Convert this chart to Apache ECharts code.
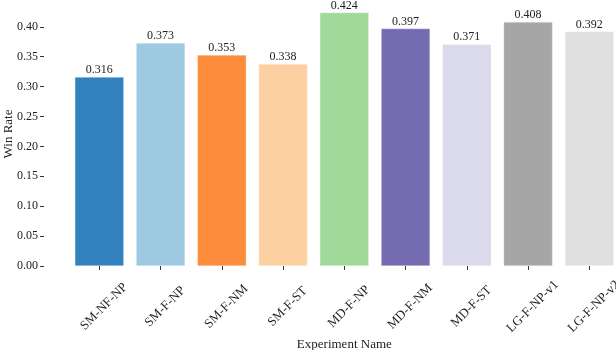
<!DOCTYPE html>
<html>
<head>
<meta charset="utf-8">
<script src="https://cdn.jsdelivr.net/npm/echarts@6/dist/echarts.min.js"></script>
<style>
  html, body { margin: 0; padding: 0; background: #fff; }
  #chart { width: 616px; height: 350px; }
</style>
</head>
<body>
<div id="chart"></div>
<script>
// experiment names and win rates
const experiments = ['SM-NF-NP', 'SM-F-NP', 'SM-F-NM', 'SM-F-ST', 'MD-F-NP', 'MD-F-NM', 'MD-F-ST', 'LG-F-NP-v1', 'LG-F-NP-v2'];
const winRates = [0.316, 0.373, 0.353, 0.338, 0.424, 0.397, 0.371, 0.408, 0.392];
const barColors = ['#3182bd', '#9ecae1', '#fd8d3c', '#fdd0a2', '#a1d99b', '#756bb1', '#dadaeb', '#a6a6a6', '#e0e0e0'];
const yTicks = [0, 0.05, 0.1, 0.15, 0.2, 0.25, 0.3, 0.35, 0.4];

const font = 'Liberation Serif, DejaVu Serif, serif';

const chart = echarts.init(document.getElementById('chart'));

chart.setOption({
  animation: false,
  grid: { left: 68.7, top: -3.1, width: 551.25, bottom: 84, outerBoundsMode: 'none', containLabel: false },
  // y axis title as plain text, the axis name gets pushed off the canvas
  graphic: [{
    type: 'text',
    x: 2, y: 134,
    rotation: Math.PI / 2,
    style: { text: 'Win Rate', font: '13px ' + font, fill: '#222', align: 'center', verticalAlign: 'top' }
  }],
  xAxis: {
    type: 'category',
    data: experiments,
    name: 'Experiment Name',
    nameLocation: 'middle',
    nameGap: 72,
    nameMoveOverlap: false,
    nameTextStyle: { fontFamily: font, fontSize: 13, color: '#222' },
    axisLine: { show: false },
    axisTick: { show: true, alignWithLabel: true, length: 4, lineStyle: { color: '#333' } },
    axisLabel: {
      rotate: 45, align: 'center', verticalAlign: 'top',
      fontFamily: font, fontSize: 13, color: '#222', margin: 36
    }
  },
  yAxis: {
    type: 'value',
    min: 0,
    max: 0.45,
    interval: 0.05,
    offset: 24.7,
    splitLine: { show: false },
    axisLine: { show: false },
    axisTick: { show: true, length: 4, lineStyle: { color: '#333' } },
    axisLabel: {
      fontFamily: font, fontSize: 12, color: '#222', margin: 6,
      formatter: v => (yTicks.some(t => Math.abs(t - v) < 1e-9) ? v.toFixed(2) : '')
    }
  },
  series: [{
    type: 'bar',
    barWidth: '80%',
    data: winRates.map((v, i) => ({
      value: v,
      itemStyle: { color: barColors[i], borderColor: 'rgba(255,255,255,0.6)', borderWidth: 0.5 }
    })),
    label: {
      show: true,
      position: 'top',
      distance: 1,
      fontFamily: font,
      fontSize: 12,
      color: '#222',
      formatter: p => p.value.toFixed(3)
    }
  }]
});
</script>
</body>
</html>
